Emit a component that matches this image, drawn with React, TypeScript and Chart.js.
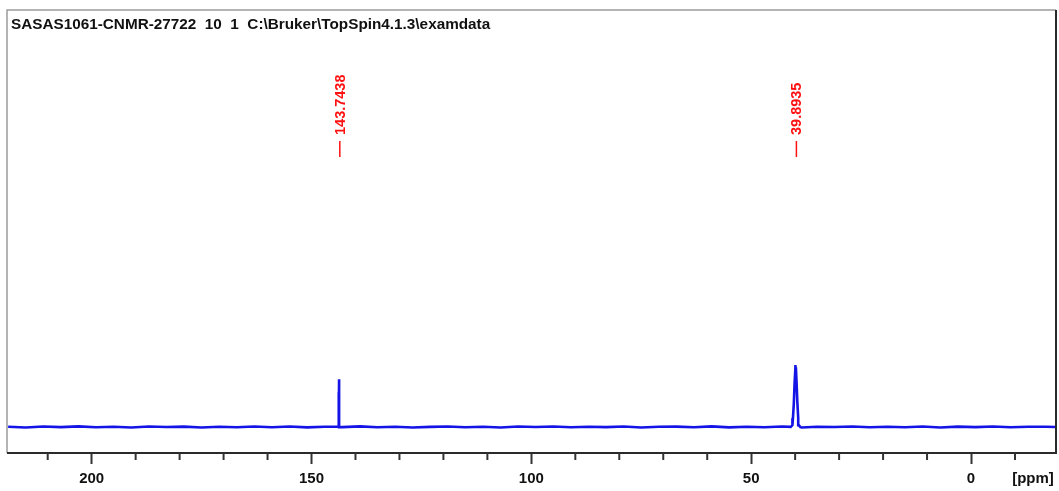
import React, { useEffect, useRef } from "react";
import { Chart, registerables } from "chart.js";

Chart.register(...registerables);

const TITLE = "SASAS1061-CNMR-27722  10  1  C:\\Bruker\\TopSpin4.1.3\\examdata";
const AXIS_UNIT = "[ppm]";
const PPM_MIN = -19.33;
const PPM_MAX = 219.26;

// peak pick labels (ppm)
const peakLabels = [143.7438, 39.8935];

// baseline sample positions (ppm) and small noise values
const baselinePpm = [
  219, 215, 211, 207, 203, 199, 195, 191, 187, 183, 179, 175, 171, 167, 163, 159, 155, 151, 147, 143,
  139, 135, 131, 127, 123, 119, 115, 111, 107, 103, 99, 95, 91, 87, 83, 79, 75, 71, 67, 63,
  59, 55, 51, 47, 43, 38.5, 35, 31, 27, 23, 19, 15, 11, 7, 3, -1, -5, -9, -13, -17, -19.3,
];
const baselineInt = [
  0.4, -0.8, 0.6, -0.3, 0.9, -0.6, 0.2, -1.0, 0.7, -0.2, 0.5, -0.9, 0.3, -0.5, 0.8, -0.4, 0.6, -0.7, 0.2, -0.3,
  0.9, -0.6, 0.4, -0.8, 0.1, 0.7, -0.5, 0.3, -0.9, 0.6, -0.2, 0.8, -0.6, 0.4, -0.3, 0.7, -0.8, 0.2, 0.5, -0.4,
  0.9, -0.7, 0.3, -0.5, 0.6, -0.9, 0.4, -0.2, 0.8, -0.6, 0.3, -0.4, 0.7, -0.8, 0.5, -0.3, 0.6, -0.5, 0.2, 0.4, 0.0,
];

// C peak at 143.74 ppm
const peak1Ppm = [143.84, 143.77, 143.755, 143.74, 143.71, 143.64];
const peak1Int = [0.3, 2, 56, 77, 3, -0.4];

// DMSO-d6 multiplet around 39.89 ppm
const dmsoPpm = [41.0, 40.62, 40.5, 40.3, 40.12, 39.98, 39.9, 39.82, 39.68, 39.5, 39.3, 39.18, 38.8];
const dmsoInt = [0.2, 3, 14, 38, 72, 95, 100, 94, 72, 40, 14, 3, -0.3];

function buildPoints() {
  const pts: { x: number; y: number }[] = [];
  baselinePpm.forEach((p, i) => pts.push({ x: p, y: baselineInt[i] }));
  peak1Ppm.forEach((p, i) => pts.push({ x: p, y: peak1Int[i] }));
  dmsoPpm.forEach((p, i) => pts.push({ x: p, y: dmsoInt[i] }));
  pts.sort((a, b) => a.x - b.x);
  return pts;
}

const isMajor = (v: number) => Math.abs(v % 50) < 1e-6;

const decorPlugin = {
  id: "decor",
  afterDraw(chart: any) {
    const { ctx, chartArea } = chart;
    const xs = chart.scales.x;
    const { left, right, top, bottom } = chartArea;
    ctx.save();
    // frame: light top/left, dark right/bottom
    ctx.lineWidth = 1.5;
    ctx.strokeStyle = "#9c9c9c";
    ctx.beginPath();
    ctx.moveTo(left, bottom);
    ctx.lineTo(left, top);
    ctx.lineTo(right, top);
    ctx.stroke();
    ctx.lineWidth = 2;
    ctx.strokeStyle = "#2a2a2a";
    ctx.beginPath();
    ctx.moveTo(right, top);
    ctx.lineTo(right, bottom);
    ctx.lineTo(left, bottom);
    ctx.stroke();

    // minor ticks
    ctx.lineWidth = 2;
    ctx.strokeStyle = "#333";
    xs.ticks.forEach((t: any) => {
      const v = t.value;
      if (Math.abs(v % 10) < 1e-6 && !isMajor(v)) {
        const px = xs.getPixelForValue(v);
        ctx.beginPath();
        ctx.moveTo(px, bottom);
        ctx.lineTo(px, bottom + 7);
        ctx.stroke();
      }
    });

    // title
    ctx.fillStyle = "#111";
    ctx.font = "bold 15.3px 'Liberation Sans', Arial, sans-serif";
    ctx.textAlign = "left";
    ctx.textBaseline = "middle";
    ctx.fillText(TITLE, left + 4, top + 15);

    // axis unit
    ctx.font = "bold 15px 'Liberation Sans', Arial, sans-serif";
    ctx.textAlign = "center";
    ctx.fillText(AXIS_UNIT, right - 23, 479);

    // peak labels
    ctx.fillStyle = "#ff1010";
    ctx.strokeStyle = "#ff1010";
    ctx.lineWidth = 1.5;
    ctx.font = "bold 14.5px 'Liberation Sans', Arial, sans-serif";
    peakLabels.forEach((v) => {
      const px = xs.getPixelForValue(v);
      ctx.beginPath();
      ctx.moveTo(px + 0.8, top + 131);
      ctx.lineTo(px + 0.8, top + 147);
      ctx.stroke();
      ctx.save();
      ctx.translate(px + 1.8, top + 125);
      ctx.rotate(-Math.PI / 2);
      ctx.textAlign = "left";
      ctx.textBaseline = "middle";
      ctx.fillText(v.toFixed(4), 0, 0);
      ctx.restore();
    });
    ctx.restore();
  },
};

export default function App() {
  const ref = useRef<HTMLCanvasElement | null>(null);
  useEffect(() => {
    if (!ref.current) return;
    const chart = new Chart(ref.current, {
      type: "line",
      data: {
        datasets: [
          {
            data: buildPoints(),
            borderColor: "#1414e6",
            borderWidth: 2.6,
            pointRadius: 0,
            tension: 0,
            fill: false,
          },
        ],
      },
      options: {
        responsive: false,
        animation: false,
        devicePixelRatio: 1,
        parsing: true,
        layout: { padding: { left: 7, right: 3, top: 10, bottom: 0 } },
        plugins: { legend: { display: false }, tooltip: { enabled: false }, title: { display: false } },
        scales: {
          x: {
            type: "linear",
            reverse: true,
            min: PPM_MIN,
            max: PPM_MAX,
            afterFit: (s: any) => {
              s.height = 38;
            },
            border: { display: false },
            grid: {
              display: true,
              drawOnChartArea: false,
              drawTicks: true,
              tickLength: 11,
              tickWidth: 2,
              tickColor: (c: any) => (c.tick && isMajor(c.tick.value) ? "#333" : "rgba(0,0,0,0)"),
            },
            ticks: {
              stepSize: 10,
              includeBounds: false,
              autoSkip: false,
              maxRotation: 0,
              padding: 6,
              color: "#111",
              font: { family: "'Liberation Sans', Arial, sans-serif", size: 15, weight: "bold" },
              callback: (v: any) => (isMajor(Number(v)) ? String(v) : ""),
            },
          },
          y: {
            display: false,
            min: -42,
            max: 672,
          },
        },
      },
      plugins: [decorPlugin],
    });
    return () => chart.destroy();
  }, []);
  return (
    <div style={{ position: "absolute", left: 0, top: 0, width: 1059, height: 491, background: "#fff" }}>
      <canvas ref={ref} width={1059} height={491} style={{ width: 1059, height: 491 }} />
    </div>
  );
}
